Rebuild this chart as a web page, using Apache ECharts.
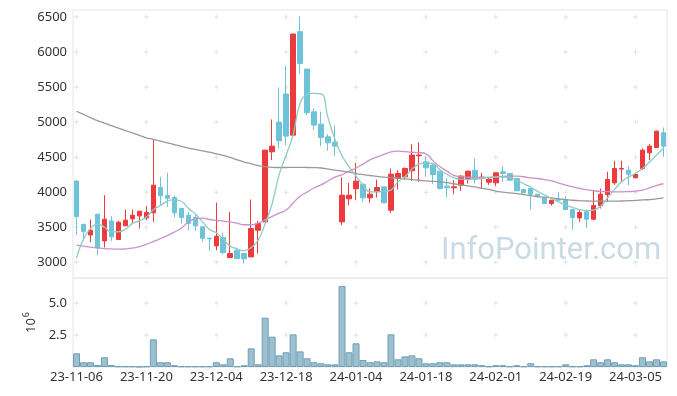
<!DOCTYPE html>
<html><head><meta charset="utf-8">
<script src="https://cdn.jsdelivr.net/npm/echarts@6/dist/echarts.min.js"></script>
<style>html,body{margin:0;padding:0;background:#fff}#c{width:677px;height:396px}</style>
</head><body><div id="c"></div>
<script>
const dates = ['23-11-06','23-11-07','23-11-08','23-11-09','23-11-10','23-11-13','23-11-14','23-11-15','23-11-16','23-11-17',
'23-11-20','23-11-21','23-11-22','23-11-23','23-11-24','23-11-27','23-11-28','23-11-29','23-11-30','23-12-01',
'23-12-04','23-12-05','23-12-06','23-12-07','23-12-08','23-12-11','23-12-12','23-12-13','23-12-14','23-12-15',
'23-12-18','23-12-19','23-12-20','23-12-21','23-12-22','23-12-26','23-12-27','23-12-28','24-01-02','24-01-03',
'24-01-04','24-01-05','24-01-08','24-01-09','24-01-10','24-01-11','24-01-12','24-01-15','24-01-16','24-01-17',
'24-01-18','24-01-19','24-01-22','24-01-23','24-01-24','24-01-25','24-01-26','24-01-29','24-01-30','24-01-31',
'24-02-01','24-02-02','24-02-05','24-02-06','24-02-07','24-02-08','24-02-13','24-02-14','24-02-15','24-02-16',
'24-02-19','24-02-20','24-02-21','24-02-22','24-02-23','24-02-26','24-02-27','24-02-28','24-02-29','24-03-04',
'24-03-05','24-03-06','24-03-07','24-03-08','24-03-11'];
const opens = [4160,3540,3390,3686,3304,3590,3324,3519,3619,3662,3633,3705,4067,3952,3924,3767,3671,3638,3505,3345,
3233,3352,3067,3171,3124,3076,3457,3576,4576,5000,5400,4814,6290,5757,5148,4971,4790,4714,3576,3905,
4048,4114,3919,4005,4076,3743,4195,4219,4305,4520,4433,4386,4300,4086,4062,4100,4186,4314,4205,4143,
4133,4290,4267,4195,4038,4052,3971,3924,3838,3900,3895,3752,3633,3719,3614,3805,3967,4133,4330,4314,
4205,4338,4562,4638,4848];
const closes = [3650,3435,3457,3210,3614,3362,3571,3600,3671,3729,3710,4100,3948,3914,3705,3638,3552,3519,3343,3335,
3371,3138,3124,3052,3048,3481,3552,4600,4657,4733,4800,6257,5838,5133,4957,4781,4705,4657,3957,3957,
4157,3919,3971,4067,3848,4257,4267,4338,4529,4530,4348,4252,4052,4062,4076,4229,4300,4181,4215,4186,
4276,4267,4171,4019,3990,3971,3933,3838,3886,3886,3752,3638,3710,3614,3810,3971,4181,4338,4340,4257,
4252,4600,4657,4871,4657];
const lows = [3390,3314,3286,3100,3210,3305,3324,3519,3552,3481,3600,3576,3814,3790,3638,3552,3457,3448,3290,3160,
3171,3114,3067,3052,2981,3076,3124,3576,4457,4624,4671,4800,5695,5100,4886,4657,4590,4514,3529,3814,
3886,3862,3848,3924,3848,3705,4038,4176,4162,4148,4219,4114,4040,3924,3971,4019,4124,4124,4052,4105,
4086,4148,4165,4019,3985,3752,3930,3835,3810,3862,3740,3467,3576,3486,3600,3767,3862,4105,4148,4100,
4200,4314,4457,4630,4505];
const highs = [4160,3553,3610,3686,3957,3657,3590,3752,3752,3729,3800,4753,4219,4276,3952,3780,3719,3686,3505,3345,
3852,3424,3719,3210,3130,3895,3590,4600,5038,5495,5800,6260,6514,5760,5195,5148,4829,4957,4210,4133,
4419,4114,4052,4181,4076,4338,4314,4352,4686,4710,4505,4400,4300,4195,4171,4243,4305,4481,4276,4210,
4280,4371,4270,4195,4040,4052,3975,3926,3888,4005,3943,3760,3743,3752,4019,4052,4290,4448,4448,4371,
4260,4624,4686,4880,4924];
const ma5 = [3060,3330,3480,3545,3500,3433,3435,3470,3555,3590,3645,3750,3810,3870,3895,3870,3770,3690,3580,3470,
3420,3330,3230,3190,3165,3210,3314,3552,3838,4250,4530,4820,5270,5390,5410,5405,5060,4750,4520,4365,
4230,4100,4005,4005,4010,4030,4148,4220,4330,4400,4419,4410,4320,4257,4205,4185,4181,4188,4195,4210,
4219,4215,4210,4170,4120,4070,4010,3960,3910,3860,3814,3780,3752,3735,3745,3800,3920,4040,4148,4215,
4270,4338,4430,4530,4624];
const ma20 = [3245,3230,3215,3205,3195,3190,3186,3190,3200,3222,3255,3295,3335,3380,3430,3485,3575,3620,3630,3610,
3598,3588,3576,3555,3535,3535,3558,3605,3655,3700,3745,3845,3943,4000,4060,4105,4160,4215,4250,4300,
4345,4400,4460,4500,4540,4575,4586,4578,4570,4565,4548,4450,4365,4300,4240,4220,4215,4212,4210,4212,
4218,4225,4228,4229,4220,4205,4195,4180,4160,4130,4100,4076,4055,4035,4020,4012,4008,4005,4005,4008,
4015,4030,4060,4095,4120];
const ma60 = [5155,5110,5065,5020,4985,4950,4915,4880,4845,4810,4776,4755,4730,4705,4680,4655,4630,4610,4590,4570,
4548,4525,4495,4460,4430,4405,4380,4365,4355,4352,4352,4355,4355,4352,4350,4345,4330,4315,4300,4285,
4265,4250,4238,4225,4215,4208,4200,4190,4180,4170,4160,4155,4148,4135,4120,4105,4090,4075,4055,4040,
4015,4000,3990,3980,3965,3950,3935,3928,3920,3905,3895,3885,3878,3874,3872,3871,3871,3871,3874,3878,
3883,3890,3895,3905,3918];
const volumes = [1070000,370000,370000,160000,760000,160000,50000,50000,50000,20000,
50000,2160000,370000,370000,140000,50000,50000,50000,50000,50000,
370000,210000,680000,50000,140000,1460000,210000,3850000,2370000,910000,
1150000,2550000,1220000,680000,370000,290000,210000,210000,6330000,1150000,
1850000,550000,370000,440000,370000,2550000,600000,830000,910000,680000,
290000,290000,370000,370000,210000,210000,210000,210000,140000,50000,
140000,140000,50000,140000,50000,290000,50000,50000,50000,50000,
210000,50000,50000,140000,600000,370000,600000,370000,210000,210000,
140000,760000,440000,600000,440000];
const priceTicks = [3000,3500,4000,4500,5000,5500,6000,6500];
const volumeTicks = [2500000,5000000];
const labelEvery = 10;

const candleData = dates.map((d,i)=>[opens[i],closes[i],lows[i],highs[i]]);
const gridIdx = dates.map((d,i)=>i).filter(i=>i%labelEvery===0);
const priceCross = []; gridIdx.forEach(i=>priceTicks.forEach(v=>priceCross.push([dates[i],v])));
const volCross = []; gridIdx.forEach(i=>volumeTicks.forEach(v=>volCross.push([dates[i],v])));

const FONT = 'Noto Sans';
const txt = {color:'#333', fontSize:13, fontFamily:FONT};
const plus = 'path://M2,0H3V2H5V3H3V5H2V3H0V2H2Z';
const chart = echarts.init(document.getElementById('c'), null, {renderer:'canvas'});
chart.setOption({
  animation:false,
  backgroundColor:'#fff',
  grid:[
    {left:73, top:10, width:594, height:268, show:true, borderColor:'#e6e6e6', borderWidth:1},
    {left:73, top:278, width:594, height:89, show:true, borderColor:'#e6e6e6', borderWidth:1}
  ],
  xAxis:[
    {type:'category', data:dates, gridIndex:0, boundaryGap:true, axisLine:{show:false}, axisTick:{show:false}, axisLabel:{show:false}, splitLine:{show:false}},
    {type:'category', data:dates, gridIndex:1, boundaryGap:true, axisLine:{show:false}, axisTick:{show:false},
      axisLabel:Object.assign({interval:labelEvery-1, margin:4}, txt), splitLine:{show:false}}
  ],
  yAxis:[
    {type:'value', gridIndex:0, min:2775, max:6600, interval:25, axisLine:{show:false}, axisTick:{show:false}, splitLine:{show:false},
      axisLabel:Object.assign({margin:6, showMinLabel:false, showMaxLabel:false, formatter:v=> (priceTicks.indexOf(v)>=0 ? String(v) : '')}, txt)},
    {type:'value', gridIndex:1, min:0, max:6950000, interval:2500000, axisLine:{show:false}, axisTick:{show:false}, splitLine:{show:false},
      axisLabel:Object.assign({margin:6, showMinLabel:false, showMaxLabel:false, formatter:v=>(v/1e6).toFixed(1)}, txt),
      name:'{a|10}{s|6}', nameLocation:'middle', nameRotate:90, nameGap:34,
      nameTextStyle:{color:'#333', fontSize:13, fontFamily:FONT, rich:{
        a:{fontSize:13, fontFamily:FONT, color:'#333', verticalAlign:'bottom'},
        s:{fontSize:9, fontFamily:FONT, color:'#333', verticalAlign:'bottom', padding:[0,0,7,1]}}}}
  ],
  graphic:[{type:'text', left:441, top:236, z:-1, silent:true,
    style:{text:'InfoPointer.com', font:'31px Roboto', fill:'#c9dbe5'}}],
  series:[
    {type:'scatter', xAxisIndex:0, yAxisIndex:0, data:priceCross, symbol:plus, symbolSize:5, itemStyle:{color:'#dcdcdc'}, silent:true, z:1},
    {type:'scatter', xAxisIndex:1, yAxisIndex:1, data:volCross, symbol:plus, symbolSize:5, itemStyle:{color:'#dcdcdc'}, silent:true, z:1},
    {type:'candlestick', xAxisIndex:0, yAxisIndex:0, data:candleData, barWidth:5, z:3,
      itemStyle:{color:'#ec3a3d', color0:'#6ec3d9', borderColor:'#ec3a3d', borderColor0:'#6ec3d9', borderWidth:1}},
    {type:'line', xAxisIndex:0, yAxisIndex:0, data:ma60, symbol:'none', smooth:true, z:4, lineStyle:{color:'#999999', width:1.3}},
    {type:'line', xAxisIndex:0, yAxisIndex:0, data:ma20, symbol:'none', smooth:true, z:4, lineStyle:{color:'#cd90c8', width:1.3}},
    {type:'line', xAxisIndex:0, yAxisIndex:0, data:ma5, symbol:'none', smooth:true, z:4, lineStyle:{color:'#8ecbc0', width:1.3}},
    {type:'bar', xAxisIndex:1, yAxisIndex:1, data:volumes, barWidth:'100%', z:3,
      itemStyle:{color:'#9cc0d0', borderColor:'#6f9fb5', borderWidth:1}}
  ]
});
</script></body></html>
